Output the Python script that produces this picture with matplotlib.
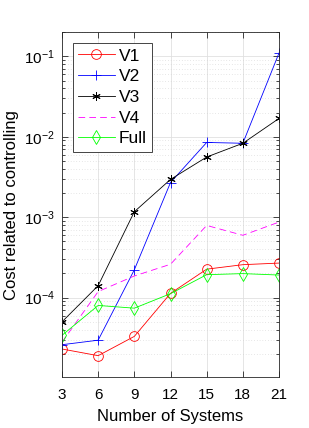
import matplotlib.pyplot as plt
import numpy as np

plt.rcParams['font.family'] = ['Liberation Sans', 'DejaVu Sans']
plt.rcParams['mathtext.fontset'] = 'custom'
plt.rcParams['mathtext.rm'] = 'Liberation Sans'
plt.rcParams['mathtext.it'] = 'Liberation Sans'

systems = [3, 6, 9, 12, 15, 18, 21]
v1 = [2.3e-5, 1.9e-5, 3.3e-5, 1.13e-4, 2.26e-4, 2.57e-4, 2.69e-4]
v2 = [2.6e-5, 2.96e-5, 2.22e-4, 2.7e-3, 8.5e-3, 8.3e-3, 0.11]
v3 = [5.0e-5, 1.41e-4, 1.17e-3, 2.95e-3, 5.6e-3, 8.3e-3, 0.0169]
v4 = [2.8e-5, 1.19e-4, 1.86e-4, 2.6e-4, 7.9e-4, 5.96e-4, 8.7e-4]
full = [3.4e-5, 8.0e-5, 7.4e-5, 1.12e-4, 1.93e-4, 1.99e-4, 1.91e-4]

fig = plt.figure(figsize=(3.09, 4.28), dpi=100)
ax = fig.add_axes([0.2006, 0.119, 0.7024, 0.806])

ax.plot(systems, v1, '-o', color='#ff0000', lw=0.6, ms=7, mfc='none', mew=0.6, label='V1')
ax.plot(systems, v2, '-+', color='#0000ff', lw=0.6, ms=7, mew=0.6, label='V2')
ax.plot(systems, v3, '-', marker=(6, 2, 0), color='black', lw=0.6, ms=6, mew=0.7, label='V3')
ax.plot(systems, v4, '--', color='#ff00ff', lw=0.6, dashes=(8, 5), label='V4')
ax.plot(systems, full, '-d', color='#00ff00', lw=0.6, ms=7, mfc='none', mew=0.6, label='Full')

ax.set_yscale('log')
ax.set_xlim(3, 21)
ax.set_ylim(1.03e-5, 0.2)
ax.set_xticks(systems)
ax.set_yticks([1e-4, 1e-3, 1e-2, 1e-1])
ax.tick_params(which='both', direction='in', top=True, right=True, labelsize=11)
ax.tick_params(axis='x', pad=8)
ax.tick_params(axis='y', pad=5)
ax.tick_params(which='major', length=4, width=0.5)
ax.tick_params(which='minor', length=2, width=0.5)
ax.grid(True, which='major', color='#e0e0e0', lw=0.6)
ax.grid(True, which='minor', axis='y', color='#d0d0d0', lw=0.5, ls=(0, (1, 3)))
for s in ax.spines.values():
    s.set_linewidth(0.6)
    s.set_color('#262626')

ax.set_xlabel('Number of Systems', fontsize=12, labelpad=5)
ax.set_ylabel('Cost related to controlling', fontsize=12, labelpad=4)

leg = ax.legend(loc='upper left', bbox_to_anchor=(0.05, 0.968), fontsize=12.5, fancybox=False,
                framealpha=1, edgecolor='#262626', handlelength=2.1, handletextpad=0.25,
                borderpad=0.3, labelspacing=0.32, borderaxespad=0)
leg.get_frame().set_linewidth(0.6)

fig.savefig('out.png', dpi=100)
